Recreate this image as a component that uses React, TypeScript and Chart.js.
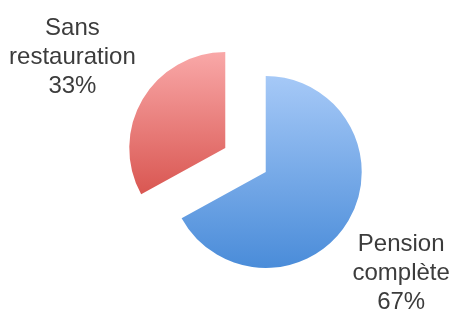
import React, { useEffect, useRef } from "react";
import { Chart, registerables } from "chart.js";

Chart.register(...registerables);

const categories = ["Pension complète", "Sans restauration"];
const values = [67, 33];
const gradientTop = ["#a6c9f7", "#f9a8a8"];
const gradientBottom = ["#4a8cd9", "#ce3a33"];

const EXPLODE = 23.5;
const LABEL_DIST = [1.76, 1.85];
const LABEL_ANGLE_ADJ = [6.1, 0];

const explodePlugin = {
  id: "explode",
  afterDatasetUpdate(chart: any, args: any) {
    const meta = chart.getDatasetMeta(args.index);
    const ctx = chart.ctx;
    meta.data.forEach((el: any, i: number) => {
      const mid = (el.startAngle + el.endAngle) / 2;
      el.x += Math.cos(mid) * EXPLODE;
      el.y += Math.sin(mid) * EXPLODE;
      const r = el.outerRadius;
      const g = ctx.createLinearGradient(0, el.y - r, 0, el.y + r);
      g.addColorStop(0, gradientTop[i]);
      g.addColorStop(1, gradientBottom[i]);
      el.options = Object.assign({}, el.options, { backgroundColor: g });
    });
  },
};

const labelPlugin = {
  id: "sliceLabels",
  afterDatasetsDraw(chart: any) {
    const meta = chart.getDatasetMeta(0);
    const ctx = chart.ctx;
    const total = values.reduce((a, b) => a + b, 0);
    ctx.save();
    ctx.font = '24px "Liberation Sans", Arial, sans-serif';
    ctx.fillStyle = "#3c3c3c";
    ctx.textAlign = "center";
    ctx.textBaseline = "middle";
    meta.data.forEach((el: any, i: number) => {
      const mid = (el.startAngle + el.endAngle) / 2 + (LABEL_ANGLE_ADJ[i] * Math.PI) / 180;
      const d = el.outerRadius * LABEL_DIST[i];
      const cx = el.x + Math.cos(mid) * d;
      const cy = el.y + Math.sin(mid) * d;
      const lines = [...categories[i].split(" "), Math.round((values[i] / total) * 100) + "%"];
      const lh = 29;
      lines.forEach((t, k) => {
        ctx.fillText(t, cx, cy + (k - (lines.length - 1) / 2) * lh);
      });
    });
    ctx.restore();
  },
};

export default function App() {
  const ref = useRef<HTMLCanvasElement | null>(null);
  useEffect(() => {
    if (!ref.current) return;
    const chart = new Chart(ref.current, {
      type: "pie",
      data: {
        labels: categories,
        datasets: [
          {
            data: values,
            backgroundColor: gradientTop,
            borderWidth: 0,
          },
        ],
      },
      options: {
        animation: false,
        responsive: true,
        maintainAspectRatio: false,
        radius: 96,
        layout: { padding: { left: 40, right: 0, top: 11, bottom: 0 } },
        plugins: {
          legend: { display: false },
          tooltip: { enabled: false },
        },
        events: [],
      } as any,
      plugins: [explodePlugin, labelPlugin],
    });
    return () => chart.destroy();
  }, []);
  return (
    <div style={{ position: "fixed", left: 0, top: 0, width: 451, height: 309, background: "#fff" }}>
      <canvas ref={ref} />
    </div>
  );
}
